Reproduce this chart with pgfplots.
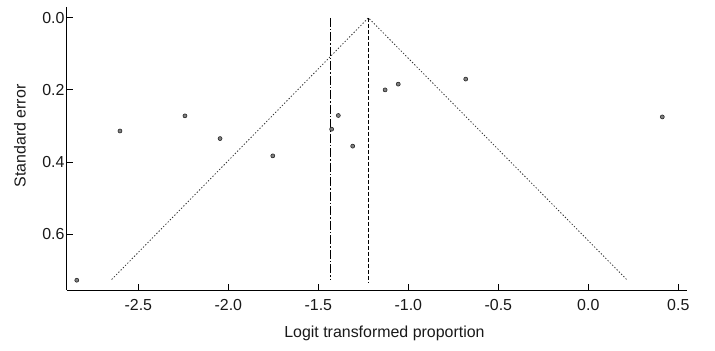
\documentclass[border=0pt]{standalone}
\usepackage{fontspec}
\setmainfont{Liberation Sans}
\usepackage{pgfplots}
\pgfplotsset{compat=1.18}
\begin{document}
\begin{tikzpicture}[x=1bp,y=1bp]
\useasboundingbox (-66.7bp,-60.7bp) rectangle (648.3bp,290.3bp);
\begin{axis}[
  at={(0,0)}, anchor=south west,
  scale only axis, width=620.6bp, height=283.3bp,
  xmin=-2.898, xmax=0.55, ymin=-0.03, ymax=0.756,
  y dir=reverse,
  axis x line*=bottom, axis y line*=left,
  axis line style={-, line width=1.1pt, black},
  tick align=inside, major tick length=6bp,
  tick style={black, line width=0.9pt},
  xtick={-2.5,-2.0,-1.5,-1.0,-0.5,0.0,0.5},
  xticklabels={-2.5,-2.0,-1.5,-1.0,-0.5,0.0,0.5},
  ytick={0,0.2,0.4,0.6},
  yticklabels={0.0,0.2,0.4,0.6},
  tick label style={font=\fontsize{16}{19}\selectfont, text=black!90},
  yticklabel style={inner sep=2bp},
  xticklabel style={inner sep=2bp, yshift=-7bp},
  xlabel={Logit transformed proportion},
  ylabel={Standard error},
  label style={font=\fontsize{16}{19}\selectfont, text=black!90},
  x label style={at={(axis description cs:0.512,-0.1437)}, anchor=center, yshift=-2bp},
  y label style={at={(axis description cs:-0.0752,0.545)}, anchor=center},
  clip=false,
]
% pseudo 95% confidence limits
\addplot[black!80, line width=0.8pt, dash pattern=on 1.3bp off 1.9bp] coordinates {(-2.648,0.726) (-1.222,0) (0.213,0.726)};
% vertical reference lines
\addplot[black, line width=0.9pt, dash pattern=on 9bp off 2bp on 1.5bp off 2bp] coordinates {(-1.433,0) (-1.433,0.726)};
\addplot[black, line width=0.9pt, dash pattern=on 4bp off 2bp] coordinates {(-1.222,0) (-1.222,0.733)};
% studies
\addplot[only marks, mark=*, mark size=2bp, mark options={fill=black!50, draw=black!85, line width=0.6pt}] coordinates {
(-2.602,0.314) (-2.241,0.272) (-2.046,0.335) (-1.753,0.383)
(-1.426,0.309) (-1.389,0.271) (-1.309,0.356) (-1.129,0.200)
(-1.056,0.184) (-0.681,0.170) (0.411,0.275) (-2.842,0.728)
};
\end{axis}
\end{tikzpicture}
\end{document}
